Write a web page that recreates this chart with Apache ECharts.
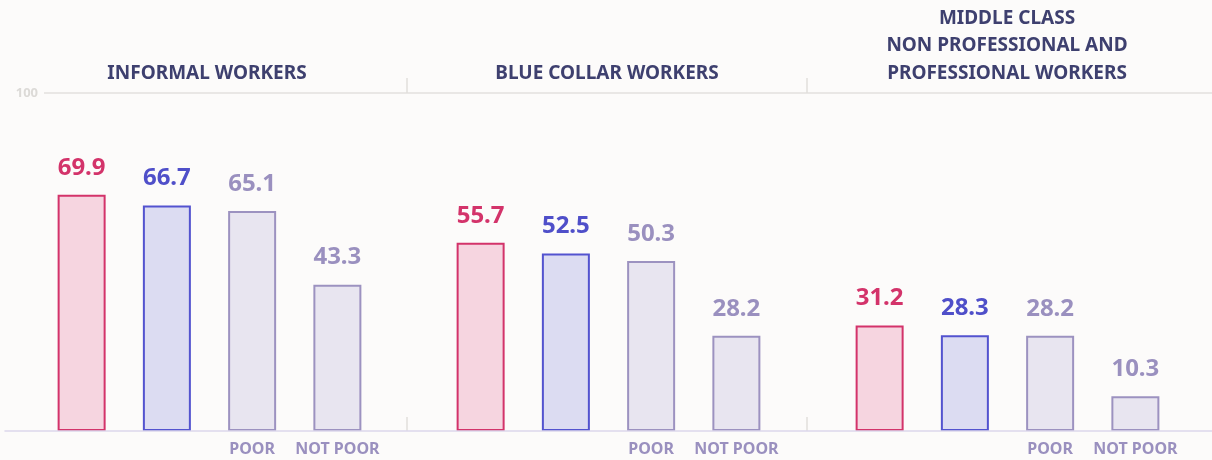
<!DOCTYPE html>
<html><head><meta charset="utf-8">
<script src="https://cdn.jsdelivr.net/npm/echarts@6/dist/echarts.min.js"></script>
<style>html,body{margin:0;padding:0;background:#fcfbfa}#c{width:1212px;height:460px}</style>
</head><body><div id="c"></div><script>
// ---- data ----
const groups = ['INFORMAL WORKERS', 'BLUE COLLAR WORKERS', 'MIDDLE CLASS\nNON PROFESSIONAL AND\nPROFESSIONAL WORKERS'];
const barLabels = ['', '', 'POOR', 'NOT POOR'];
const seriesRed = [69.9, 55.7, 31.2];
const seriesBlue = [66.7, 52.5, 28.3];
const seriesPoor = [65.1, 50.3, 28.2];
const seriesNotPoor = [43.3, 28.2, 10.3];
const yMax = 100;
const yTickLabels = ['100'];

// ---- styles ----
const FONT = 'Noto Sans';
const styles = [
  {fill: '#f6d5e0', border: '#d3336a', text: '#d3336a'},
  {fill: '#dcdcf2', border: '#5353cf', text: '#4f4fc9'},
  {fill: '#e8e5f0', border: '#9c92c0', text: '#9a90bf'},
  {fill: '#e8e5f0', border: '#9c92c0', text: '#9a90bf'}
];
const allSeries = [seriesRed, seriesBlue, seriesPoor, seriesNotPoor];
const barGridLefts = [39, 438, 837];

// grid 0: 100 gridline; grid 1: titles + bottom separators; grid 2: top separators; grid 3: baseline; grids 4-6: bars
const grids = [
  {left: 44, right: 0, top: 93, bottom: 29},
  {left: 7, right: 5, top: 93, bottom: 29},
  {left: 7, right: 5, top: 93, bottom: 29},
  {left: 5, right: 0, top: 93, bottom: 29}
];
barGridLefts.forEach(l => grids.push({left: l, width: 341, top: 93, bottom: 29}));

const hidden = {axisLine: {show: false, onZero: false}, axisTick: {show: false}, axisLabel: {show: false}, splitLine: {show: false}};
const sepTick = (gi, pos, inside, len) => Object.assign({}, hidden, {
  gridIndex: gi, type: 'value', position: pos, min: 0, max: groups.length,
  axisTick: {show: true, inside: inside, length: len, customValues: [1, 2], lineStyle: {color: '#e1dfdc', width: 1.5}}
});

const xAxes = [
  {gridIndex: 0, type: 'value', min: 0, max: 1, show: false},
  {gridIndex: 1, type: 'category', position: 'top', data: groups,
   axisLine: {show: false, onZero: false}, axisTick: {show: false}, splitLine: {show: false},
   axisLabel: {interval: 0, margin: 6, color: '#3e406f', fontFamily: FONT, fontSize: 19, fontWeight: 'bold', lineHeight: 27.5, letterSpacing: 3}},
  sepTick(1, 'bottom', true, 14),
  sepTick(2, 'top', false, 15),
  Object.assign({}, hidden, {gridIndex: 3, type: 'value', position: 'bottom', min: 0, max: 1, z: 10,
   axisLine: {show: true, onZero: false, lineStyle: {color: '#dcd8ec', width: 1.5}}})
];
barGridLefts.forEach((l, g) => xAxes.push({
  gridIndex: 4 + g, type: 'category', position: 'bottom', data: barLabels,
  axisLine: {show: false}, axisTick: {show: false}, splitLine: {show: false},
  axisLabel: {interval: 0, margin: 10, color: '#9a90bf', fontFamily: FONT, fontSize: 16, fontWeight: 'bold'}
}));

const yAxes = [
  {gridIndex: 0, type: 'value', min: 0, max: yMax, interval: yMax,
   axisLine: {show: false}, axisTick: {show: false},
   axisLabel: {margin: 6, color: '#dcdad7', fontFamily: FONT, fontSize: 13, fontWeight: 'bold',
     formatter: v => (v === yMax ? yTickLabels[0] : '')},
   splitLine: {show: true, lineStyle: {color: ['rgba(0,0,0,0)', '#e3e1de'], width: 1.5}}}
];
for (let gi = 1; gi <= 3; gi++) yAxes.push(Object.assign({}, hidden, {gridIndex: gi, type: 'value', min: 0, max: yMax}));
barGridLefts.forEach((l, g) => yAxes.push(Object.assign({}, hidden, {gridIndex: 4 + g, type: 'value', min: 0, max: yMax})));

const series = groups.map((name, g) => ({
  type: 'bar', name: name, xAxisIndex: 5 + g, yAxisIndex: 4 + g, barWidth: 48, z: 2,
  label: {show: true, position: 'top', distance: 15, fontFamily: FONT, fontSize: 24, fontWeight: 'bold',
    formatter: p => p.value.toFixed(1)},
  data: allSeries.map((arr, i) => ({
    value: arr[g],
    itemStyle: {color: styles[i].fill, borderColor: styles[i].border, borderWidth: 2},
    label: {color: styles[i].text}
  }))
}));

const chart = echarts.init(document.getElementById('c'), null, {renderer: 'canvas'});
chart.setOption({
  backgroundColor: '#fcfbfa',
  animation: false,
  grid: grids,
  xAxis: xAxes,
  yAxis: yAxes,
  series: series
});
</script></body></html>
